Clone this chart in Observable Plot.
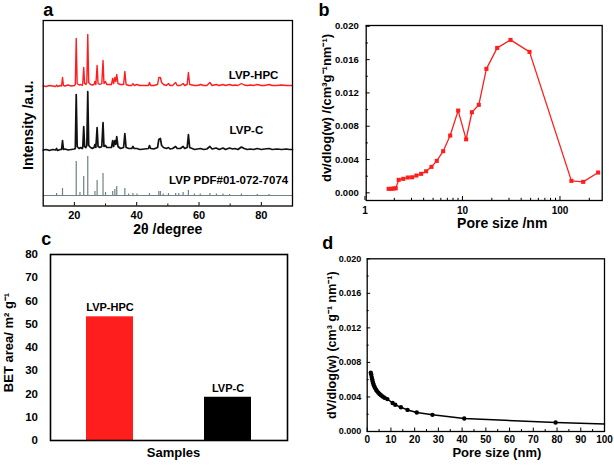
<!DOCTYPE html>
<html><head><meta charset="utf-8">
<script src="https://cdn.jsdelivr.net/npm/d3@7"></script>
<script src="https://cdn.jsdelivr.net/npm/@observablehq/plot@0.6"></script>
<style>
body{margin:0;background:#fff;}
#wrap{position:relative;width:614px;height:465px;overflow:hidden;background:#fff;}
#wrap svg{position:absolute;overflow:visible;}
</style></head><body><div id="wrap"></div>
<script>
// ---------- Panel a: XRD ----------
const xrdNames = ["LVP-HPC", "LVP-C", "LVP PDF#01-072-7074"];
const xrdOffsets = [119.5, 55.5, 10.5];
const xrdHPC = [[10,0.5],[11,0],[12,1],[13,0.5],[14,0],[14.3,1.5],[14.6,0],[15.5,1],[15.9,0.5],[16.2,9],[16.5,1],[17,0.5],[18,1.5],[19,0.5],[20,1],[20.3,2],[20.6,48],[20.9,3],[21.5,1.5],[22,2],[22.5,1],[22.7,3],[23.0,19],[23.3,3],[23.7,2],[24.0,4],[24.3,52],[24.6,4],[25.2,2],[25.8,1.5],[26.3,2],[26.6,5],[26.9,2],[27.3,21],[27.6,3],[28.2,2],[28.8,3],[29.2,26],[29.5,3],[30.0,5],[30.4,2],[31.2,2],[31.9,2],[32.3,8],[32.6,3],[33.0,9],[33.3,5],[33.6,12],[34.0,3],[34.8,2],[35.8,2],[36.2,15],[36.6,2],[37.5,1],[38.4,1],[38.8,3],[39.2,1],[40.1,2],[41,1],[42.5,1],[43.8,1],[44.1,4],[44.5,1],[45.5,1],[46.7,2],[47.1,9],[47.6,9],[48.0,4],[48.6,2],[49.5,1],[50.2,3],[50.7,1],[51.5,1],[52.5,4],[53,1],[54,1],[54.9,3],[55.4,1],[56.2,2],[56.6,14],[57.0,2],[57.8,1.5],[58.6,1],[59.5,1],[60.5,2],[61.5,1],[62.5,1],[63.5,4],[64.2,1],[65.5,2],[66.5,1],[67.7,2],[68.5,1],[69.8,2],[70.8,1],[71.5,1.5],[72.5,1],[73.6,3],[74.5,1.5],[75.5,1],[76.5,1.5],[77.5,1],[78.7,2],[80,1],[81,1],[82.5,2],[83.5,1],[85,1],[86.5,1.5],[88,1],[89,1],[90,1]];
const xrdC = [[10,0.5],[11,1],[12,0],[13,1],[14,0.5],[14.3,2],[14.6,0],[15.5,1],[15.9,1],[16.2,10],[16.5,1],[17,1.5],[18,0.5],[19,1],[20,1.5],[20.3,2],[20.6,56],[20.9,4],[21.5,2],[22,3],[22.5,2],[22.7,3],[23.0,24],[23.3,4],[23.7,3],[24.0,5],[24.3,59],[24.6,5],[25.2,3],[25.8,2],[26.3,3],[26.6,6],[26.9,3],[27.3,23],[27.6,4],[28.2,3],[28.8,4],[29.2,28],[29.5,4],[30.0,5],[30.4,3],[31.2,3],[31.9,3],[32.3,10],[32.6,4],[33.0,10],[33.3,6],[33.6,14],[34.0,4],[34.8,2],[35.8,3],[36.2,17],[36.6,3],[37.5,2],[38.4,2],[38.8,4],[39.2,2],[40.1,2],[41,1],[42.5,1.5],[43.8,2],[44.1,5],[44.5,2],[45.5,1.5],[46.7,3],[47.1,11],[47.6,12],[48.0,5],[48.6,3],[49.5,2],[50.2,3],[50.7,1.5],[51.5,2],[52.5,4],[53,2],[54,2],[54.9,4],[55.4,2],[56.2,3],[56.6,16],[57.0,3],[57.8,2],[58.6,1],[59.5,1.5],[60.5,2],[61.5,1],[62.5,1.5],[63.5,4],[64.2,1.5],[65.5,2.5],[66.5,1],[67.7,2.5],[68.5,1],[69.8,2.5],[70.8,1.5],[71.5,2],[72.5,1],[73.6,3.5],[74.5,2],[75.5,1],[76.5,1.5],[77.5,1],[78.7,2],[80,1],[81,1.5],[82.5,2],[83.5,1],[85,1.5],[86.5,1],[88,1.5],[89,1],[90,1]];
const xrdRefPeaks = [[14.3,2],[16.2,7],[20.6,34],[21.8,3],[23.0,19],[24.3,39],[26.6,4],[27.3,15],[29.2,22],[30.0,3],[32.3,4],[33.0,6],[33.6,9],[36.2,7],[37.4,1.5],[38.8,2],[40.1,1.5],[44.1,2],[47.1,4],[47.6,4],[48.5,1.5],[50.2,2],[52.5,2],[53.5,2],[54.9,3],[56.6,5],[58.5,1.5],[60.4,1.5],[63.5,2],[65.6,1.5],[67.7,1.5],[69.8,1],[73.6,1.5],[78.7,1],[82.5,1]];
const xrdMajorTicks = [20, 40, 60, 80];
const xrdMinorTicks = [30, 50, 70];

// ---------- Panel b: pore size distribution (log) ----------
const bPore = [1.75,1.87,1.97,2.07,2.22,2.47,2.75,3.05,3.37,3.77,4.24,4.81,5.45,6.34,7.48,9.03,10.9,12.5,14.7,17.6,22.7,31.1,48.7,131,173,246];
const bDv = [0.00048,0.00048,0.00052,0.00055,0.00156,0.00168,0.00184,0.00187,0.00208,0.00228,0.00259,0.00312,0.00384,0.0050,0.00688,0.00988,0.00643,0.00968,0.01057,0.01489,0.01741,0.01837,0.01693,0.00144,0.00132,0.00244];
const bMajorX = [1, 10, 100];
const bMinorX = [2,3,4,5,6,7,8,9,20,30,40,50,60,70,80,90,200];
const bMajorY = [0, 0.004, 0.008, 0.012, 0.016, 0.020];
const bMinorY = [0.002, 0.006, 0.010, 0.014, 0.018];

// ---------- Panel c: BET area ----------
const cSamples = ["LVP-HPC", "LVP-C"];
const cBet = [53.2, 18.6];
const cTicks = [0, 10, 20, 30, 40, 50, 60, 70, 80];

// ---------- Panel d: pore size distribution (linear) ----------
const dPore = [1.5,1.7,1.9,2.1,2.3,2.5,2.8,3.1,3.4,3.8,4.2,4.7,5.2,5.8,6.5,7.3,8.5,10.7,11.8,14.2,17,20.9,27.5,40.9,79.4];
const dDv = [0.0068,0.0066,0.0063,0.00605,0.0058,0.0056,0.00535,0.00515,0.0050,0.0048,0.00465,0.0045,0.00435,0.0042,0.00405,0.0039,0.00375,0.0033,0.0031,0.0028,0.0025,0.0022,0.00193,0.0015,0.00104];
const dTail = [100, 0.00088];
const dMajorX = [0,10,20,30,40,50,60,70,80,90,100];
const dMinorX = [5,15,25,35,45,55,65,75,85,95];
const dMajorY = [0, 0.004, 0.008, 0.012, 0.016, 0.020];
const dMinorY = [0.002, 0.006, 0.010, 0.014, 0.018];

// ---------- rendering ----------
const wrap = document.getElementById("wrap");
const FONT = "'Liberation Sans', Arial, sans-serif";
const RED = "#ff1e1e";
const baseStyle = {fontFamily: FONT, fontWeight: "bold", fontSize: "11px", color: "black", background: "transparent", overflow: "visible"};
function place(svg, left, top) {
  svg.style.left = left + "px";
  svg.style.top = top + "px";
  wrap.appendChild(svg);
}
function inTicksX(values, innerH, len, extra = {}) {
  return Plot.tickX(values, {x: d => d, insetTop: innerH - len, stroke: "black", strokeWidth: 1, ...extra});
}
function inTicksY(values, innerW, len, extra = {}) {
  return Plot.tickY(values, {y: d => d, insetRight: innerW - len, stroke: "black", strokeWidth: 1, ...extra});
}
function xTitle(t, dx, dy, fs) {
  return Plot.text([t], {frameAnchor: "bottom", textAnchor: "middle", lineAnchor: "middle", dx, dy, fontSize: fs});
}
function yTitle(t, dx, dy, fs) {
  return Plot.text([t], {frameAnchor: "left", textAnchor: "middle", lineAnchor: "middle", rotate: -90, dx, dy, fontSize: fs});
}
function tag(t, dx, dy) {
  return Plot.text([t], {frameAnchor: "top-left", textAnchor: "start", lineAnchor: "bottom", dx, dy, fontSize: 18});
}

// Panel a
{
  const w = 300, h = 232, mt = 20, mb = 26.5, ml = 42.7, mr = 8;
  const ih = h - mt - mb;
  const hpc = xrdHPC.map(([x, y]) => ({x, y: y + xrdOffsets[0]}));
  const lc = xrdC.map(([x, y]) => ({x, y: y + xrdOffsets[1]}));
  const labelX = [77.5, 75.2, 69.5];
  const labelDy = [11, 20, 15];
  const GRAY = "#6f8285";
  const svg = Plot.plot({
    width: w, height: h, marginTop: mt, marginBottom: mb, marginLeft: ml, marginRight: mr,
    style: baseStyle,
    x: {domain: [10, 90]},
    y: {domain: [0, 185.5], axis: null},
    marks: [
      Plot.ruleY([xrdOffsets[2]], {x1: 10, x2: 90, stroke: GRAY, strokeWidth: 1}),
      Plot.ruleX(xrdRefPeaks, {x: d => d[0], y1: xrdOffsets[2], y2: d => xrdOffsets[2] + d[1], stroke: GRAY, strokeWidth: 1.2}),
      Plot.line(lc, {x: "x", y: "y", stroke: "#111", strokeWidth: 1.7}),
      Plot.line(hpc, {x: "x", y: "y", stroke: RED, strokeWidth: 1.4}),
      Plot.text(xrdNames, {x: (d, i) => labelX[i], y: (d, i) => xrdOffsets[i] + labelDy[i], text: d => d, fontSize: 11.5}),
      Plot.frame({stroke: "black", strokeWidth: 1.3}),
      inTicksX(xrdMajorTicks, ih, 3.5),
      inTicksX(xrdMinorTicks, ih, 2),
      Plot.axisX({ticks: xrdMajorTicks, tickSize: 0, tickPadding: 5.5, label: null, fontSize: 11}),
      xTitle("2θ /degree", 0, 23.5, 14),
      yTitle("Intensity /a.u.", -15, 12, 14),
      tag("a", 0, -5)
    ]
  });
  place(svg, 0, 0);
}

// Panel b
{
  const w = 314, h = 232, mt = 25, mb = 32, ml = 65.7, mr = 12.3;
  const ih = h - mt - mb, iw = w - ml - mr;
  const rows = bPore.map((p, i) => ({p, v: bDv[i]}));
  const svg = Plot.plot({
    width: w, height: h, marginTop: mt, marginBottom: mb, marginLeft: ml, marginRight: mr,
    style: baseStyle,
    x: {type: "log", domain: [1.03, 271]},
    y: {domain: [-0.00092, 0.0201]},
    marks: [
      Plot.line(rows, {x: "p", y: "v", stroke: RED, strokeWidth: 1.3}),
      Plot.dot(rows, {x: "p", y: "v", symbol: "square", r: 2.3, fill: RED, stroke: "none"}),
      Plot.frame({stroke: "black", strokeWidth: 1.3}),
      inTicksX(bMajorX, ih, 4),
      inTicksX(bMinorX, ih, 2.2),
      inTicksY(bMajorY, iw, 4),
      inTicksY(bMinorY, iw, 2.2),
      Plot.axisX({ticks: bMajorX, tickFormat: d => String(d), tickSize: 0, tickPadding: 6, label: null, fontSize: 10}),
      Plot.axisY({ticks: bMajorY, tickFormat: d => d.toFixed(3), tickSize: 0, tickPadding: 7.5, label: null, fontSize: 9.5}),
      xTitle("Pore size /nm", 18, 22.7, 14),
      yTitle("dv/dlog(w) /(cm³g⁻¹nm⁻¹)", -39, -5, 13),
      tag("b", -47.7, -10)
    ]
  });
  place(svg, 300, 0);
}

// Panel c
{
  const w = 300, h = 233, mt = 22, mb = 25, ml = 50, mr = 13;
  const barColors = [RED, "#000000"];
  const rows = cSamples.map((s, i) => ({s, v: cBet[i], c: barColors[i]}));
  const svg = Plot.plot({
    width: w, height: h, marginTop: mt, marginBottom: mb, marginLeft: ml, marginRight: mr,
    style: baseStyle,
    x: {domain: cSamples, paddingInner: 0.6, paddingOuter: 0.3, axis: null},
    y: {domain: [0, 80]},
    color: {type: "identity"},
    marks: [
      Plot.barY(rows, {x: "s", y: "v", fill: "c"}),
      Plot.text(rows, {x: "s", y: "v", text: "s", dy: -9, fontSize: 11}),
      Plot.frame({stroke: "black", strokeWidth: 1.6}),
      Plot.axisY({ticks: cTicks, tickSize: 0, tickPadding: 12.5, label: null, fontSize: 11.5}),
      xTitle("Samples", 4.5, 12, 13),
      yTitle("BET area/ m² g⁻¹", -41.5, -5, 13),
      tag("c", -9.3, -10)
    ]
  });
  place(svg, 0, 232);
}

// Panel d
{
  const w = 314, h = 233, mt = 26.3, mb = 34, ml = 66.7, mr = 10;
  const ih = h - mt - mb, iw = w - ml - mr;
  const pts = dPore.map((p, i) => ({p, v: dDv[i]}));
  const linePts = pts.concat([{p: dTail[0], v: dTail[1]}]);
  const svg = Plot.plot({
    width: w, height: h, marginTop: mt, marginBottom: mb, marginLeft: ml, marginRight: mr,
    style: baseStyle,
    x: {domain: [0, 100]},
    y: {domain: [0, 0.020]},
    marks: [
      Plot.line(linePts, {x: "p", y: "v", stroke: "black", strokeWidth: 1.5}),
      Plot.dot(pts, {x: "p", y: "v", r: 2.2, fill: "black", stroke: "none"}),
      Plot.frame({stroke: "black", strokeWidth: 1.3}),
      inTicksX(dMajorX, ih, 3.5),
      inTicksX(dMinorX, ih, 2),
      inTicksY(dMajorY, iw, 3.5),
      inTicksY(dMinorY, iw, 2),
      Plot.axisX({ticks: dMajorX, tickFormat: d => String(d), tickSize: 0, tickPadding: 4.5, label: null, fontSize: 10}),
      Plot.axisY({ticks: dMajorY, tickFormat: d => d.toFixed(3), tickSize: 0, tickPadding: 6, label: null, fontSize: 9}),
      xTitle("Pore size (nm)", 11, 21.5, 13),
      yTitle("dV/dlog(w) (cm³ g⁻¹ nm⁻¹)", -35, 0, 12.5),
      tag("d", -45, -10)
    ]
  });
  place(svg, 300, 232);
}
</script>
</body></html>
